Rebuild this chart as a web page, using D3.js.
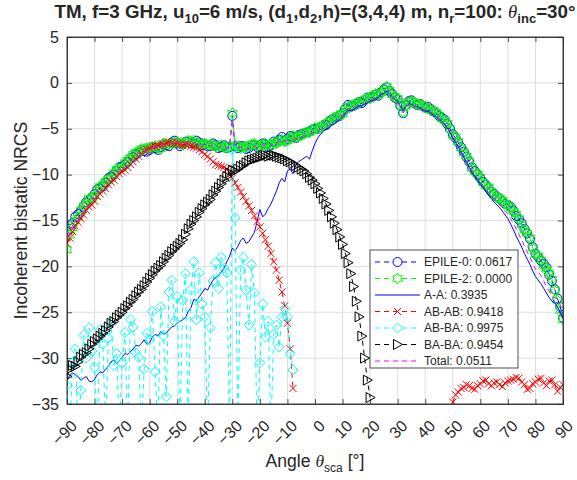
<!DOCTYPE html>
<html>
<head>
<meta charset="utf-8">
<script src="https://cdn.jsdelivr.net/npm/d3@7"></script>
<style>
  body { margin: 0; background: #fff; }
  text { font-family: "Liberation Sans", Arial, sans-serif; fill: #262626; }
</style>
</head>
<body>
<svg id="chart" width="577" height="480"></svg>
<script>
  // one sample per degree; each array starts at the angle noted beside it
  var xTicks = [-90, -80, -70, -60, -50, -40, -30, -20, -10, 0, 10, 20, 30, 40, 50, 60, 70, 80, 90];
  var yTicks = [-35, -30, -25, -20, -15, -10, -5, 0, 5];

  // -90 .. 90
  var epile0 = [
    -16.2, -15.9, -15.3, -14.6, -14.3, -14.0, -13.5, -13.0, -12.8, -12.5,
    -12.1, -11.6, -11.5, -11.3, -10.9, -10.4, -10.2, -10.0, -9.6, -9.2,
    -9.1, -8.9, -8.6, -8.2, -8.1, -7.8, -7.6, -7.3, -7.4, -7.5,
    -7.3, -7.0, -7.1, -7.3, -7.0, -6.7, -6.8, -6.9, -6.5, -6.3,
    -6.6, -6.9, -6.7, -6.4, -6.4, -6.6, -6.6, -6.3, -6.5, -6.8,
    -6.7, -6.9, -6.9, -6.6, -6.8, -7.1, -7.0, -6.8, -7.1, -7.0,
    -3.6, -6.9, -7.1, -6.9, -6.9, -7.2, -7.1, -6.8, -6.8, -7.0,
    -6.9, -6.6, -6.7, -7.0, -6.8, -6.4, -6.5, -6.2, -5.9, -6.3,
    -6.1, -5.8, -5.9, -6.0, -5.7, -5.6, -5.5, -5.4, -5.3, -5.1,
    -5.0, -5.0, -4.8, -4.7, -4.6, -4.2, -4.0, -3.9, -3.7, -3.6,
    -3.3, -2.8, -2.4, -2.6, -2.5, -2.3, -2.1, -2.2, -1.9, -1.6,
    -1.6, -1.5, -1.3, -1.4, -1.0, -0.7, -0.5, -0.9, -1.2, -1.6,
    -1.8, -2.5, -3.3, -2.4, -2.0, -1.9, -2.2, -2.4, -2.3, -2.5,
    -2.7, -2.6, -2.9, -3.1, -3.3, -3.6, -3.8, -4.0, -4.5, -5.0,
    -5.6, -6.0, -6.5, -7.0, -7.5, -8.1, -8.6, -9.2, -9.6, -10.0,
    -10.4, -10.8, -11.1, -11.5, -11.9, -12.1, -12.4, -12.6, -12.9, -13.2,
    -13.3, -13.5, -13.9, -14.5, -14.9, -15.3, -15.9, -16.4, -17.0, -17.9,
    -18.6, -19.0, -19.4, -19.7, -20.1, -20.9, -21.6, -22.5, -23.5, -24.4,
    -25.6
  ];
  // -90 .. 90
  var epile2 = [
    -18.2, -16.6, -15.8, -15.0, -14.6, -13.9, -13.4, -13.1, -12.6, -12.6,
    -12.3, -11.7, -11.3, -11.1, -10.7, -10.6, -10.4, -9.8, -9.4, -9.4,
    -9.2, -8.7, -8.4, -8.2, -7.8, -7.6, -7.5, -7.2, -7.2, -7.1,
    -7.1, -7.0, -6.9, -7.1, -7.2, -6.6, -6.6, -6.7, -6.6, -6.5,
    -6.4, -6.6, -6.7, -6.5, -6.3, -6.4, -6.3, -6.6, -6.7, -6.6,
    -6.6, -6.8, -6.7, -6.8, -7.0, -6.9, -6.8, -7.0, -7.1, -6.9,
    -3.3, -6.8, -6.9, -7.1, -7.0, -7.0, -6.9, -6.7, -6.6, -6.9,
    -7.0, -6.7, -6.6, -6.8, -6.7, -6.6, -6.6, -6.3, -6.2, -6.4,
    -6.3, -6.0, -5.8, -5.9, -5.9, -5.7, -5.5, -5.4, -5.4, -5.2,
    -4.9, -5.0, -4.9, -4.6, -4.4, -4.3, -4.1, -3.8, -3.6, -3.5,
    -3.4, -2.9, -2.6, -2.5, -2.4, -2.2, -2.2, -2.0, -1.8, -1.7,
    -1.7, -1.4, -1.2, -1.3, -1.1, -0.8, -0.4, -0.8, -1.3, -1.5,
    -1.7, -2.3, -3.2, -2.5, -2.1, -2.0, -2.1, -2.3, -2.4, -2.4,
    -2.6, -2.8, -3.0, -3.0, -3.2, -3.5, -3.9, -4.1, -4.4, -5.0,
    -5.7, -5.9, -6.4, -7.1, -7.6, -8.0, -8.5, -9.3, -9.7, -9.9,
    -10.3, -10.9, -11.2, -11.4, -11.8, -12.2, -12.5, -12.6, -12.8, -13.1,
    -13.4, -13.6, -14.0, -14.3, -14.8, -15.5, -16.0, -16.4, -16.9, -18.0,
    -18.7, -18.9, -19.3, -19.9, -20.3, -20.7, -21.4, -22.6, -23.7, -24.8,
    -25.8
  ];
  // -90 .. 90
  var aa = [
    -32.3, -31.9, -31.6, -31.8, -32.0, -32.4, -32.2, -32.0, -32.5, -32.6,
    -32.3, -31.8, -31.5, -31.6, -31.2, -30.9, -30.4, -30.2, -30.6, -30.3,
    -29.9, -29.5, -29.6, -29.3, -29.0, -28.6, -28.7, -28.4, -28.0, -28.5,
    -28.3, -27.7, -27.4, -27.6, -27.1, -27.4, -27.3, -26.9, -26.6, -26.5,
    -26.2, -26.0, -25.8, -25.6, -24.9, -24.5, -23.6, -23.7, -23.3, -22.9,
    -22.4, -22.6, -22.0, -21.5, -21.2, -21.0, -20.6, -20.2, -19.5, -18.9,
    -18.0, -18.3, -17.8, -17.2, -16.9, -17.5, -17.3, -16.8, -16.3, -15.1,
    -13.8, -14.6, -14.3, -13.7, -13.2, -12.5, -11.8, -10.9, -10.4, -10.8,
    -9.6, -9.4, -9.9, -9.0, -8.6, -8.4, -8.2, -8.0, -8.3, -7.4,
    -6.6, -6.0, -5.6, -5.3, -5.0, -4.9, -4.6, -4.5, -4.2, -4.0,
    -3.7, -3.3, -3.0, -3.0, -2.9, -2.7, -2.5, -2.5, -2.3, -2.2,
    -2.0, -1.9, -1.7, -1.6, -1.3, -1.1, -0.9, -1.2, -1.5, -1.8,
    -2.0, -2.6, -3.0, -2.6, -2.3, -2.3, -2.5, -2.6, -2.7, -2.9,
    -3.1, -3.1, -3.3, -3.5, -3.7, -3.9, -4.2, -4.5, -4.9, -5.4,
    -6.0, -6.5, -7.0, -7.6, -8.1, -8.7, -9.2, -9.8, -10.2, -10.6,
    -11.0, -11.4, -11.8, -12.2, -12.6, -13.0, -13.3, -13.6, -14.0, -14.4,
    -14.8, -15.4, -16.0, -16.7, -17.3, -17.9, -18.6, -19.2, -19.8, -20.5,
    -21.1, -21.5, -21.9, -22.4, -22.9, -23.4, -23.8, -24.0, -24.4, -25.0,
    -25.7
  ];
  // -90 .. -8
  var ababLeft = [
    -17.5, -16.9, -16.2, -15.6, -15.2, -14.8, -14.4, -13.9, -13.5, -13.3,
    -12.9, -12.4, -12.1, -11.8, -11.5, -11.1, -10.8, -10.6, -10.2, -9.9,
    -9.7, -9.5, -9.2, -8.9, -8.6, -8.3, -8.0, -7.7, -7.4, -7.3,
    -7.1, -7.0, -6.9, -6.8, -6.7, -6.7, -6.6, -6.5, -6.5, -6.6,
    -6.6, -6.7, -6.8, -6.7, -6.7, -6.9, -7.0, -7.1, -7.3, -7.5,
    -7.8, -8.0, -8.3, -8.6, -8.9, -9.0, -9.1, -9.2, -9.4, -9.8,
    -10.4, -10.9, -11.4, -11.9, -12.4, -12.9, -13.4, -13.9, -14.5, -15.1,
    -15.7, -16.4, -17.1, -17.8, -18.6, -19.5, -20.4, -21.5, -22.8, -24.3,
    -26.2, -29.0, -33.3
  ];
  // 50 .. 90
  var ababRight = [
    -34.8, -34.0, -33.7, -33.3, -33.2, -32.9, -33.0, -33.3, -33.4, -33.0,
    -32.8, -32.5, -32.4, -32.8, -33.0, -32.7, -32.6, -32.9, -33.1, -32.7,
    -32.5, -32.4, -32.3, -32.1, -32.2, -32.6, -32.9, -33.4, -33.3, -32.8,
    -32.6, -32.3, -32.2, -32.7, -33.0, -32.5, -32.4, -32.9, -33.6, -33.2,
    -32.9
  ];
  // -90 .. -8 (values under -35 fall below the axis)
  var abba = [
    -33.0, -38.0, -30.5, -29.0, -38.0, -33.5, -27.5, -30.0, -26.7, -29.2,
    -31.0, -38.0, -26.9, -28.5, -38.0, -27.8, -26.2, -30.8, -29.5, -38.0,
    -30.5, -27.2, -38.0, -25.8, -26.6, -29.4, -29.9, -38.0, -31.2, -27.3,
    -28.0, -24.9, -31.5, -38.0, -24.4, -27.6, -34.2, -22.8, -21.5, -26.0,
    -23.3, -38.0, -23.7, -20.8, -38.0, -22.5, -19.5, -25.8, -20.7, -24.1,
    -25.5, -38.0, -26.7, -21.6, -19.6, -22.4, -19.0, -20.2, -20.7, -38.0,
    -7.3, -14.7, -38.0, -20.4, -19.0, -22.6, -26.4, -19.8, -22.9, -38.0,
    -30.5, -24.1, -27.7, -26.0, -38.0, -27.4, -26.4, -28.8, -25.5, -24.6,
    -25.5, -29.5, -31.3
  ];
  // -90 .. 20
  var baba = [
    -32.0, -31.2, -30.8, -30.9, -30.4, -29.9, -29.6, -29.4, -29.0, -28.5,
    -28.2, -27.9, -27.6, -27.3, -27.0, -26.6, -26.2, -26.0, -25.6, -25.3,
    -25.0, -24.6, -24.3, -23.9, -23.6, -23.2, -22.8, -22.5, -22.1, -21.7,
    -21.3, -20.9, -20.5, -20.2, -19.9, -19.5, -19.1, -18.8, -18.4, -18.1,
    -17.8, -17.5, -17.1, -16.5, -15.9, -15.4, -15.0, -14.6, -14.1, -13.7,
    -13.3, -13.0, -12.7, -12.2, -11.8, -11.4, -11.0, -10.6, -10.2, -9.8,
    -9.5, -9.6, -9.4, -9.1, -9.0, -8.7, -8.5, -8.4, -8.3, -8.2,
    -8.1, -8.0, -7.9, -8.0, -7.9, -7.9, -8.0, -8.1, -8.2, -8.3,
    -8.5, -8.6, -8.8, -9.0, -9.2, -9.4, -9.6, -9.9, -10.3, -10.6,
    -11.0, -11.5, -12.0, -12.6, -13.2, -13.9, -14.6, -15.3, -16.0, -16.8,
    -17.6, -18.6, -19.6, -20.8, -22.2, -23.8, -25.5, -27.6, -30.0, -32.4,
    -34.3
  ];
  // -90 .. 90
  var total = [
    -16.9, -16.4, -15.9, -15.4, -15.0, -14.5, -14.1, -13.7, -13.3, -13.0,
    -12.6, -12.2, -11.9, -11.6, -11.3, -10.9, -10.6, -10.3, -10.0, -9.7,
    -9.5, -9.2, -8.9, -8.6, -8.3, -8.0, -7.7, -7.5, -7.4, -7.4,
    -7.2, -7.1, -7.0, -7.1, -6.8, -6.7, -6.6, -6.8, -6.5, -6.4,
    -6.5, -6.7, -6.6, -6.5, -6.4, -6.6, -6.5, -6.5, -6.6, -6.8,
    -6.7, -6.8, -6.9, -6.8, -6.8, -7.0, -7.0, -6.9, -7.1, -7.1,
    -4.0, -7.0, -7.1, -7.0, -7.0, -7.3, -7.2, -7.0, -6.9, -7.1,
    -7.0, -6.8, -6.8, -7.0, -6.9, -6.6, -6.6, -6.4, -6.2, -6.4,
    -6.3, -6.2, -6.2, -6.1, -6.0, -5.9, -5.8, -5.7, -5.6, -5.4,
    -5.3, -5.2, -5.1, -4.9, -4.8, -4.6, -4.3, -4.2, -4.0, -3.8,
    -3.6, -3.1, -2.8, -2.8, -2.8, -2.6, -2.4, -2.4, -2.2, -2.0,
    -1.9, -1.8, -1.6, -1.5, -1.2, -1.0, -0.8, -1.1, -1.4, -1.7,
    -2.0, -2.6, -3.3, -2.7, -2.3, -2.3, -2.5, -2.6, -2.6, -2.8,
    -3.0, -3.0, -3.2, -3.4, -3.6, -3.9, -4.1, -4.4, -4.8, -5.3,
    -5.9, -6.3, -6.8, -7.4, -7.9, -8.5, -9.0, -9.5, -10.0, -10.4,
    -10.8, -11.2, -11.6, -12.0, -12.4, -12.7, -13.0, -13.3, -13.6, -14.0,
    -14.3, -14.8, -15.3, -15.9, -16.5, -17.1, -17.8, -18.4, -19.0, -19.7,
    -20.3, -20.6, -21.0, -21.6, -22.2, -22.7, -23.2, -23.4, -23.6, -24.2,
    -24.8
  ];

  var legendLabels = ['EPILE-0: 0.0617', 'EPILE-2: 0.0000', 'A-A: 0.3935', 'AB-AB: 0.9418',
    'AB-BA: 0.9975', 'BA-BA: 0.9454', 'Total: 0.0511'];

  var series = [
    { parts: [[-90, epile0]], color: '#0000ff', dash: '5,4', marker: 'circle' },
    { parts: [[-90, epile2]], color: '#00ff00', dash: '5,4', marker: 'hexagram' },
    { parts: [[-90, aa]], color: '#0000ff', dash: null, marker: null },
    { parts: [[-90, ababLeft], [50, ababRight]], color: '#ff0000', dash: '5,4', marker: 'x' },
    { parts: [[-90, abba]], color: '#00ffff', dash: '5,4', marker: 'diamond' },
    { parts: [[-90, baba]], color: '#000000', dash: '5,4', marker: 'triangle' },
    { parts: [[-90, total]], color: '#ff00ff', dash: '5,4', marker: null }
  ];

  var margin = { top: 37, right: 14, bottom: 76, left: 67 };
  var width = 577 - margin.left - margin.right,
    height = 480 - margin.top - margin.bottom;

  var svg = d3.select('#chart');
  var g = svg.append('g')
    .attr('transform', 'translate(' + margin.left + ',' + margin.top + ')');

  var x = d3.scaleLinear().domain([-90, 90]).range([0, width]);
  var y = d3.scaleLinear().domain([-35, 5]).range([height, 0]);

  // grid
  g.append('g').selectAll('line').data(xTicks).enter().append('line')
    .attr('x1', function (d) { return x(d); }).attr('x2', function (d) { return x(d); })
    .attr('y1', 0).attr('y2', height)
    .attr('stroke', '#dedede').attr('stroke-width', 1);
  g.append('g').selectAll('line').data(yTicks).enter().append('line')
    .attr('y1', function (d) { return y(d); }).attr('y2', function (d) { return y(d); })
    .attr('x1', 0).attr('x2', width)
    .attr('stroke', '#dedede').attr('stroke-width', 1);

  // axes (inner ticks, MATLAB style)
  g.append('g')
    .attr('transform', 'translate(0,' + height + ')')
    .call(d3.axisBottom(x).tickValues(xTicks).tickSize(-5).tickFormat(''));
  g.append('g')
    .call(d3.axisLeft(y).tickValues(yTicks).tickSize(-5).tickFormat(''));
  g.append('g')
    .call(d3.axisTop(x).tickValues(xTicks).tickSize(-5).tickFormat(''));
  g.append('g')
    .attr('transform', 'translate(' + width + ',0)')
    .call(d3.axisRight(y).tickValues(yTicks).tickSize(-5).tickFormat(''));
  g.selectAll('.domain, .tick line').attr('stroke', '#262626').attr('stroke-width', 0.8);

  var fmt = d3.format('d');
  g.append('g').selectAll('text').data(yTicks).enter().append('text')
    .attr('x', -8).attr('y', function (d) { return y(d); })
    .attr('dy', '0.35em')
    .attr('text-anchor', 'end')
    .style('font-size', '16px')
    .text(function (d) { return fmt(d); });
  g.append('g').selectAll('text').data(xTicks).enter().append('text')
    .attr('transform', function (d) { return 'translate(' + (x(d) + 7) + ',' + (height + 19) + ') rotate(-45)'; })
    .attr('dy', '0.35em')
    .attr('text-anchor', 'end')
    .style('font-size', '16px')
    .text(function (d) { return fmt(d); });

  // markers
  function markerPath(type) {
    var p = d3.path(), r, i, a, rr;
    if (type === 'circle') {
      p.arc(0, 0, 4.5, 0, 2 * Math.PI);
    } else if (type === 'hexagram') {
      for (i = 0; i < 12; i++) {
        a = -Math.PI / 2 + i * Math.PI / 6;
        rr = i % 2 === 0 ? 5.5 : 5.5 / Math.sqrt(3);
        if (i === 0) p.moveTo(rr * Math.cos(a), rr * Math.sin(a));
        else p.lineTo(rr * Math.cos(a), rr * Math.sin(a));
      }
      p.closePath();
    } else if (type === 'x') {
      r = 3.6;
      p.moveTo(-r, -r); p.lineTo(r, r);
      p.moveTo(-r, r); p.lineTo(r, -r);
    } else if (type === 'diamond') {
      r = 5;
      p.moveTo(0, -r); p.lineTo(r, 0); p.lineTo(0, r); p.lineTo(-r, 0); p.closePath();
    } else if (type === 'triangle') {
      p.moveTo(5, 0); p.lineTo(-4, -5); p.lineTo(-4, 5); p.closePath();
    }
    return p.toString();
  }

  g.append('clipPath').attr('id', 'plotClip')
    .append('rect').attr('width', width).attr('height', height);

  var plot = g.append('g').attr('clip-path', 'url(#plotClip)');

  var line = d3.line()
    .x(function (d) { return x(d[0]); })
    .y(function (d) { return y(d[1]); });

  series.forEach(function (s) {
    s.parts.forEach(function (part) {
      var pts = part[1].map(function (v, i) { return [part[0] + i, v]; });
      plot.append('path')
        .datum(pts)
        .attr('fill', 'none')
        .attr('stroke', s.color)
        .attr('stroke-width', 1)
        .attr('stroke-dasharray', s.dash)
        .attr('d', line);
      if (s.marker) {
        plot.append('g').selectAll('path')
          .data(pts)
          .enter().append('path')
          .attr('transform', function (d) { return 'translate(' + x(d[0]) + ',' + y(d[1]) + ')'; })
          .attr('d', markerPath(s.marker))
          .attr('fill', 'none')
          .attr('stroke', s.color)
          .attr('stroke-width', 1);
      }
    });
  });

  // box on top
  g.append('rect').attr('width', width).attr('height', height)
    .attr('fill', 'none').attr('stroke', '#262626').attr('stroke-width', 0.8);

  // legend
  var lx = 370, ly = 250, lw = 148, lh = 118;
  var legend = svg.append('g');
  legend.append('rect')
    .attr('x', lx).attr('y', ly).attr('width', lw).attr('height', lh)
    .attr('fill', '#fff').attr('stroke', '#262626').attr('stroke-width', 0.8);
  series.forEach(function (s, i) {
    var yy = ly + 12 + i * 16.5;
    legend.append('line')
      .attr('x1', lx + 5).attr('x2', lx + 50).attr('y1', yy).attr('y2', yy)
      .attr('stroke', s.color).attr('stroke-width', 1)
      .attr('stroke-dasharray', s.dash);
    if (s.marker) {
      legend.append('path')
        .attr('transform', 'translate(' + (lx + 27.5) + ',' + yy + ')')
        .attr('d', markerPath(s.marker))
        .attr('fill', '#fff')
        .attr('stroke', s.color).attr('stroke-width', 1);
    }
    legend.append('text')
      .attr('x', lx + 54).attr('y', yy).attr('dy', '0.35em')
      .style('font-size', '12px')
      .text(legendLabels[i]);
  });

  // axis labels
  var xl = svg.append('text')
    .attr('x', margin.left + width / 2).attr('y', 467)
    .attr('text-anchor', 'middle')
    .style('font-size', '17.6px');
  xl.append('tspan').text('Angle ');
  xl.append('tspan').style('font-family', '"Liberation Serif", serif').style('font-style', 'italic').text('\u03b8');
  xl.append('tspan').attr('dy', 5).style('font-size', '12px').text('sca');
  xl.append('tspan').attr('dy', -5).text(' [\u00b0]');

  svg.append('text')
    .attr('transform', 'translate(27,' + (margin.top + height / 2) + ') rotate(-90)')
    .attr('text-anchor', 'middle')
    .style('font-size', '17.6px')
    .text('Incoherent bistatic NRCS');

  // title
  var title = svg.append('text')
    .attr('x', margin.left + width / 2).attr('y', 18)
    .attr('text-anchor', 'middle')
    .style('font-size', '18.8px').style('font-weight', 'bold');
  var parts = [
    ['TM, f=3 GHz, u', 0], ['10', 1], ['=6 m/s, (d', -1], ['1', 1], [',d', -1], ['2', 1],
    [',h)=(3,4,4) m, n', -1], ['r', 1], ['=100: ', -1], ['\u03b8', 2], ['inc', 1], ['=30\u00b0', -1]
  ];
  parts.forEach(function (p) {
    var t = title.append('tspan').text(p[0]);
    if (p[1] === 1) t.attr('dy', 5).style('font-size', '13px');
    if (p[1] === -1) t.attr('dy', -5);
    if (p[1] === 2) t.style('font-family', '"Liberation Serif", serif').style('font-style', 'italic').style('font-weight', 'normal');
  });
</script>
</body>
</html>
